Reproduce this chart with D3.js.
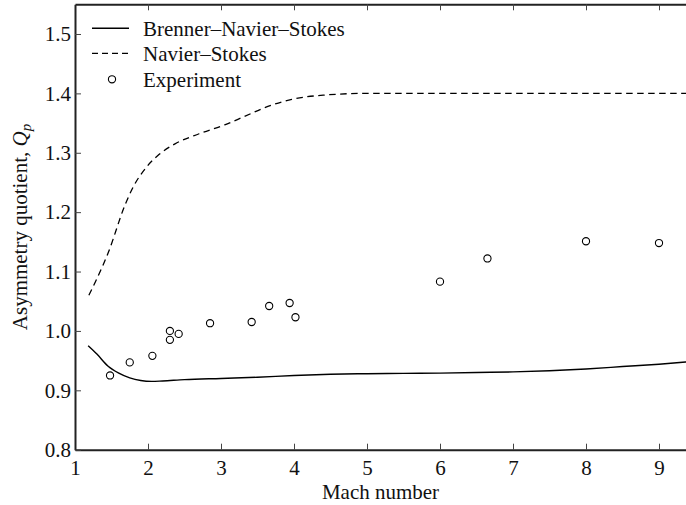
<!DOCTYPE html>
<html><head><meta charset="utf-8">
<script src="https://cdn.jsdelivr.net/npm/d3@7"></script>
<style>
html,body{margin:0;padding:0;background:#fff;}
</style></head>
<body><svg id="c" width="686" height="505"></svg>
<script>
// Data
const bnsMach  = [1.18,1.3,1.45,1.6,1.75,1.9,2.05,2.2,2.5,3.0,3.5,4.0,4.5,5.0,5.5,6.0,6.5,7.0,7.5,8.0,8.5,9.0,9.4];
const bnsQ     = [0.975,0.961,0.941,0.929,0.921,0.9165,0.915,0.9158,0.918,0.920,0.922,0.925,0.927,0.928,0.9285,0.929,0.930,0.931,0.933,0.936,0.940,0.944,0.948];
const nsMach   = [1.19,1.3,1.456,1.685,1.8,1.98,2.15,2.37,2.7,3.05,3.3,3.6,3.97,4.4,5.0,6.0,7.0,8.0,9.4];
const nsQ      = [1.060,1.088,1.132,1.212,1.243,1.276,1.297,1.315,1.332,1.347,1.360,1.376,1.390,1.397,1.400,1.400,1.400,1.400,1.400];
const expMach  = [1.48,1.75,2.06,2.3,2.3,2.42,2.85,3.42,3.66,3.94,4.02,6.0,6.65,8.0,9.0];
const expQ     = [0.925,0.947,0.958,0.985,1.0,0.995,1.013,1.015,1.042,1.047,1.023,1.083,1.122,1.151,1.148];
const xTicks   = [1,2,3,4,5,6,7,8,9];
const yTicks   = [0.8,0.9,1.0,1.1,1.2,1.3,1.4,1.5];
const legendLabels = ["Brenner\u2013Navier\u2013Stokes","Navier\u2013Stokes","Experiment"];

const FONT = "Liberation Serif";
const svg = d3.select("#c");
const L=75, R=688.2, T=4.3, B=449.7;
const x = d3.scaleLinear().domain([1,9.4]).range([L,R]);
const y = d3.scaleLinear().domain([0.8,1.55]).range([B,T]);

svg.append("clipPath").attr("id","clip").append("rect")
  .attr("x",L).attr("y",T).attr("width",686-L).attr("height",B-T);

const g = svg.append("g").attr("clip-path","url(#clip)");
const line = d3.line().x(d=>x(d[0])).y(d=>y(d[1])).curve(d3.curveMonotoneX);

g.append("path").datum(bnsMach.map((m,i)=>[m,bnsQ[i]]))
  .attr("d",line).attr("fill","none").attr("stroke","#000").attr("stroke-width",1.4);
g.append("path").datum(nsMach.map((m,i)=>[m,nsQ[i]]))
  .attr("d",line).attr("fill","none").attr("stroke","#000").attr("stroke-width",1.3)
  .attr("stroke-dasharray","6.5,4.5");
g.selectAll("circle.exp").data(expMach.map((m,i)=>[m,expQ[i]])).enter().append("circle")
  .attr("class","exp").attr("cx",d=>x(d[0])).attr("cy",d=>y(d[1])).attr("r",3.6)
  .attr("fill","none").attr("stroke","#000").attr("stroke-width",1.1);

// Axes
const axisStroke = "#222";
const xb = d3.axisBottom(x).tickValues(xTicks).tickSizeInner(-6).tickSizeOuter(0).tickFormat(d3.format("d"));
const gx = svg.append("g").attr("transform",`translate(0,${B})`).call(xb).attr("font-family",FONT);
gx.select(".domain").attr("stroke",axisStroke).attr("stroke-width",2);
gx.selectAll(".tick line").attr("stroke","#444").attr("stroke-width",1);
gx.selectAll(".tick text").attr("font-size",21).attr("y",10).attr("dy","0.71em").attr("fill","#111");
const xt = d3.axisTop(x).tickValues(xTicks.filter(v=>v>1)).tickSizeInner(-6).tickSizeOuter(0).tickFormat("");
const gxt = svg.append("g").attr("transform",`translate(0,${T})`).call(xt);
gxt.select(".domain").attr("stroke",axisStroke).attr("stroke-width",2);
gxt.selectAll(".tick line").attr("stroke","#444").attr("stroke-width",1);
const yl = d3.axisLeft(y).tickValues(yTicks).tickSizeInner(-6).tickSizeOuter(0).tickFormat(d3.format(".1f"));
const gy = svg.append("g").attr("transform",`translate(${L},0)`).call(yl).attr("font-family",FONT);
gy.select(".domain").attr("stroke",axisStroke).attr("stroke-width",2);
gy.selectAll(".tick line").attr("stroke","#444").attr("stroke-width",1);
gy.selectAll(".tick text").attr("font-size",21).attr("x",-4).attr("fill","#111");

// Axis titles
svg.append("text").attr("x",(L+686)/2).attr("y",499).attr("text-anchor","middle")
  .attr("font-family",FONT).attr("font-size",21).attr("fill","#111").text("Mach number");
const yt = svg.append("text").attr("transform",`translate(27,${(T+B)/2}) rotate(-90)`)
  .attr("text-anchor","middle").attr("font-family",FONT).attr("font-size",21).attr("fill","#111");
yt.append("tspan").text("Asymmetry quotient, ");
yt.append("tspan").attr("font-style","italic").text("Q");
yt.append("tspan").attr("font-style","italic").attr("font-size",15).attr("dy",4).text("p");

// Legend
const lg = svg.append("g");
const rowsY = [28.3,53.3,79.3];
lg.append("line").attr("x1",92).attr("x2",129).attr("y1",rowsY[0]).attr("y2",rowsY[0]).attr("stroke","#000").attr("stroke-width",1.4);
lg.append("line").attr("x1",92).attr("x2",129).attr("y1",rowsY[1]).attr("y2",rowsY[1]).attr("stroke","#000").attr("stroke-width",1.3).attr("stroke-dasharray","6,4");
lg.append("circle").attr("cx",112).attr("cy",rowsY[2]).attr("r",3.6).attr("fill","none").attr("stroke","#000").attr("stroke-width",1.1);
lg.selectAll("text.lt").data(legendLabels).enter().append("text").attr("class","lt")
  .attr("x",143).attr("y",(d,i)=>rowsY[i]+8).attr("font-family",FONT).attr("font-size",21).attr("fill","#111").text(d=>d);
</script></body></html>
